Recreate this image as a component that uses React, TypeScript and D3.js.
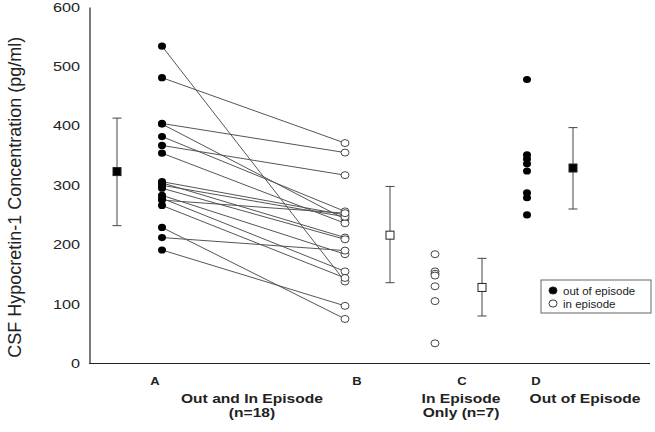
import React, { useEffect, useRef } from 'react';
import * as d3 from 'd3';

// paired patients: out of episode (A) -> in episode (B)
const pairedOut = [534, 481, 404, 403, 382, 367, 354, 306, 304, 300, 295, 283, 278, 275, 266, 229, 212, 191];
const pairedIn = [138, 371, 355, 243, 256, 317, 236, 250, 212, 247, 209, 184, 155, 253, 144, 75, 190, 97];
const inOnly = [184, 155, 151, 148, 130, 105, 34];
const outOnly = [478, 351, 344, 336, 324, 287, 279, 250];

// mean and SD bars
const summaryKeys = ['A', 'B', 'C', 'D'];
const summaryMean = [323, 216, 128, 329];
const summaryLow = [232, 136, 80, 260];
const summaryHigh = [413, 298, 177, 397];
const summaryFilled = [true, false, false, true];

const yTicks = [0, 100, 200, 300, 400, 500, 600];
const letterLabels = ['A', 'B', 'C', 'D'];
const groupLabels = [['Out and In Episode', '(n=18)'], ['In Episode', 'Only (n=7)'], ['Out of Episode']];
const legendLabels = ['out of episode', 'in episode'];

const W = 655;
const H = 432;
const FONT = '"Liberation Sans", Arial, sans-serif';
const STRETCH = 1.3; // the source text is a bit wider than plain Arial

export default function App() {
  const svgRef = useRef<SVGSVGElement>(null);

  useEffect(() => {
    const svg = d3.select(svgRef.current);
    svg.selectAll('*').remove();

    const y = d3.scaleLinear().domain([0, 600]).range([363.5, 7]);
    // column positions
    const x = d3.scaleOrdinal<string, number>()
      .domain(['meanA', 'outA', 'inB', 'meanB', 'labB', 'C', 'meanC', 'labC', 'D', 'labD', 'meanD', 'labA', 'grpAB', 'grpC', 'grpD'])
      .range([117, 162, 345, 390, 357, 435, 482, 462, 527, 536, 573, 155, 252, 461, 585]);

    const wideText = (px: number, py: number, t: string, size: number, bold: boolean, anchor = 'middle') =>
      svg.append('text')
        .attr('transform', `translate(${px},${py}) scale(${STRETCH},1)`)
        .attr('text-anchor', anchor)
        .attr('font-family', FONT)
        .attr('font-weight', bold ? 'bold' : 'normal')
        .attr('font-size', size)
        .attr('fill', '#222')
        .text(t);

    // axes
    const yAxis = svg.append('g')
      .attr('transform', 'translate(89.5,0)')
      .call(d3.axisLeft(y).tickValues(yTicks).tickSize(0).tickFormat(() => ''));
    yAxis.select('.domain').attr('stroke', '#222').attr('stroke-width', 1.2);
    yTicks.forEach(v => wideText(80, y(v) + 4.5, String(v), 12.5, false, 'end'));

    svg.append('line')
      .attr('x1', 89).attr('x2', 650)
      .attr('y1', y(0)).attr('y2', y(0))
      .attr('stroke', '#222').attr('stroke-width', 1.2);

    // y title
    svg.append('text')
      .attr('transform', `translate(21,${(y(0) + y(600)) / 2 + 12}) rotate(-90)`)
      .attr('text-anchor', 'middle')
      .attr('font-family', FONT)
      .attr('font-size', 18)
      .attr('fill', '#222')
      .text('CSF Hypocretin-1 Concentration (pg/ml)');

    // paired lines
    svg.append('g').selectAll('line')
      .data(pairedOut)
      .join('line')
      .attr('x1', x('outA')).attr('y1', d => y(d))
      .attr('x2', x('inB')).attr('y2', (d, i) => y(pairedIn[i]))
      .attr('stroke', '#555').attr('stroke-width', 1);

    const filledDot = (g: any, xs: number, vals: number[]) => {
      g.append('g').selectAll('ellipse')
        .data(vals)
        .join('ellipse')
        .attr('cx', xs).attr('cy', (d: number) => y(d))
        .attr('rx', 4).attr('ry', 3.6)
        .attr('fill', '#000');
    };
    const openDot = (g: any, xs: number, vals: number[]) => {
      g.append('g').selectAll('ellipse')
        .data(vals)
        .join('ellipse')
        .attr('cx', xs).attr('cy', (d: number) => y(d))
        .attr('rx', 4).attr('ry', 3.5)
        .attr('fill', '#fff')
        .attr('stroke', '#333').attr('stroke-width', 0.9);
    };

    filledDot(svg, x('outA'), pairedOut);
    openDot(svg, x('inB'), pairedIn);
    openDot(svg, x('C'), inOnly);
    filledDot(svg, x('D'), outOnly);

    // error bars
    const meanX = ['meanA', 'meanB', 'meanC', 'meanD'];
    summaryKeys.forEach((k, i) => {
      const cx = x(meanX[i]);
      const g = svg.append('g').attr('stroke', '#444').attr('stroke-width', 1);
      g.append('line').attr('x1', cx).attr('x2', cx).attr('y1', y(summaryLow[i])).attr('y2', y(summaryHigh[i]));
      g.append('line').attr('x1', cx - 4.5).attr('x2', cx + 4.5).attr('y1', y(summaryLow[i])).attr('y2', y(summaryLow[i]));
      g.append('line').attr('x1', cx - 4.5).attr('x2', cx + 4.5).attr('y1', y(summaryHigh[i])).attr('y2', y(summaryHigh[i]));
      svg.append('rect')
        .attr('x', cx - 4).attr('y', y(summaryMean[i]) - 4)
        .attr('width', 8).attr('height', 8)
        .attr('fill', summaryFilled[i] ? '#000' : '#fff')
        .attr('stroke', '#222').attr('stroke-width', 1);
    });

    // letters under axis
    const letterX = ['labA', 'labB', 'labC', 'labD'];
    letterLabels.forEach((t, i) => wideText(x(letterX[i]), 385, t, 10, true));

    const grpX = ['grpAB', 'grpC', 'grpD'];
    groupLabels.forEach((lines, i) => {
      lines.forEach((t, j) => wideText(x(grpX[i]), 403 + j * 14, t, 12, true));
    });

    // legend
    const legend = svg.append('g').attr('transform', 'translate(541,280)');
    legend.append('rect')
      .attr('x', 0).attr('y', 0).attr('width', 110).attr('height', 33)
      .attr('fill', '#fff').attr('stroke', '#666').attr('stroke-width', 1);
    legendLabels.forEach((t, i) => {
      legend.append('ellipse')
        .attr('cx', 12).attr('cy', 10.5 + i * 13)
        .attr('rx', 4).attr('ry', 3.6)
        .attr('fill', i === 0 ? '#000' : '#fff')
        .attr('stroke', '#222').attr('stroke-width', 0.9);
      legend.append('text')
        .attr('x', 22).attr('y', 14.5 + i * 13)
        .attr('font-family', FONT).attr('font-size', 11.5)
        .attr('fill', '#222')
        .text(t);
    });
  }, []);

  return (
    <svg ref={svgRef} width={W} height={H}
      style={{ position: 'absolute', left: 0, top: 0, background: '#fff' }} />
  );
}
